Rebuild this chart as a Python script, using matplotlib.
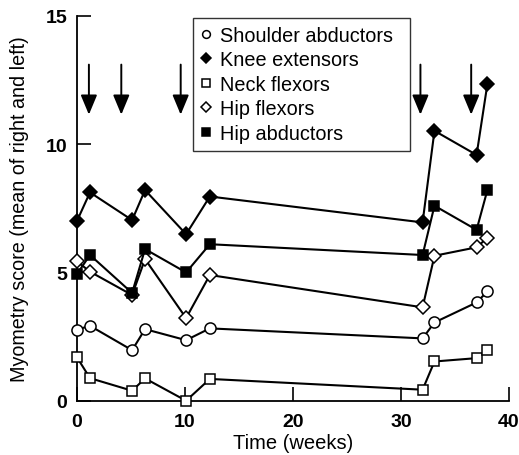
import matplotlib
matplotlib.use('Agg')
import matplotlib.pyplot as plt

plt.rcParams['font.family'] = ['Liberation Sans', 'DejaVu Sans']

# Time points (weeks)
weeks = [0, 1.2, 5.1, 6.3, 10.1, 12.3, 32, 33.1, 37, 38]

shoulder_abductors = [2.77, 2.92, 1.97, 2.79, 2.36, 2.82, 2.43, 3.05, 3.83, 4.26]
knee_extensors = [7.01, 8.12, 7.04, 8.21, 6.49, 7.96, 6.95, 10.52, 9.58, 12.34]
neck_flexors = [1.69, 0.88, 0.39, 0.87, 0.0, 0.85, 0.43, 1.53, 1.66, 1.99]
hip_flexors = [5.43, 5.03, 4.12, 5.52, 3.22, 4.9, 3.64, 5.65, 5.98, 6.35]
hip_abductors = [4.94, 5.68, 4.2, 5.91, 5.0, 6.1, 5.68, 7.6, 6.66, 8.21]

# treatment times marked by arrows
arrow_weeks = [1.1, 4.1, 9.6, 31.8, 36.5]

fig = plt.figure(figsize=(5.19, 4.56), dpi=100)
ax = fig.add_axes([0.1484, 0.119, 0.8323, 0.844])

series = [
    ('Shoulder abductors', shoulder_abductors, 'o', 'white', 8),
    ('Knee extensors', knee_extensors, 'D', 'black', 7.5),
    ('Neck flexors', neck_flexors, 's', 'white', 7.5),
    ('Hip flexors', hip_flexors, 'D', 'white', 7.5),
    ('Hip abductors', hip_abductors, 's', 'black', 7.5),
]

for label, vals, marker, face, ms in series:
    ax.plot(weeks, vals, color='black', lw=1.5, marker=marker, ms=ms,
            mfc=face, mec='black', mew=1.1, label=label, clip_on=False,
            zorder=3)

for w in arrow_weeks:
    ax.annotate('', xy=(w, 11.15), xytext=(w, 13.1),
                arrowprops=dict(arrowstyle='-|>,head_length=0.6,head_width=0.25',
                                mutation_scale=20, color='black', lw=1.4,
                                shrinkA=0, shrinkB=0))

ax.set_xlim(0, 40)
ax.set_ylim(0, 15)
ax.set_xticks([0, 10, 20, 30, 40])
ax.set_yticks([0, 5, 10, 15])
ax.spines['top'].set_visible(False)
ax.spines['right'].set_visible(False)
ax.spines['left'].set_linewidth(1.3)
ax.spines['bottom'].set_linewidth(1.3)
ax.tick_params(direction='in', length=10, width=1.2, labelsize=14)
ax.tick_params(axis='x', pad=9)
ax.tick_params(axis='y', pad=7)
for lab in ax.get_xticklabels() + ax.get_yticklabels():
    lab.set_fontweight('bold')

ax.set_xlabel('Time (weeks)', fontsize=14.5, labelpad=2)
ax.set_ylabel('Myometry score (mean of right and left)', fontsize=14.2,
              labelpad=12)

# legend box spans roughly x 193..410 px, top at 17 px
leg = ax.legend(loc='upper left', mode='expand',
                bbox_to_anchor=(0.268, 0.995, 0.503, 0.0), fontsize=14.3,
                frameon=True, fancybox=False, edgecolor='black',
                handlelength=0.5, handletextpad=0.45, borderpad=0.4,
                labelspacing=0.28, markerscale=0.7, borderaxespad=0)
leg.get_frame().set_linewidth(1.0)
for h in leg.get_lines():
    h.set_linestyle('none')

fig.savefig('out.png', dpi=100)
